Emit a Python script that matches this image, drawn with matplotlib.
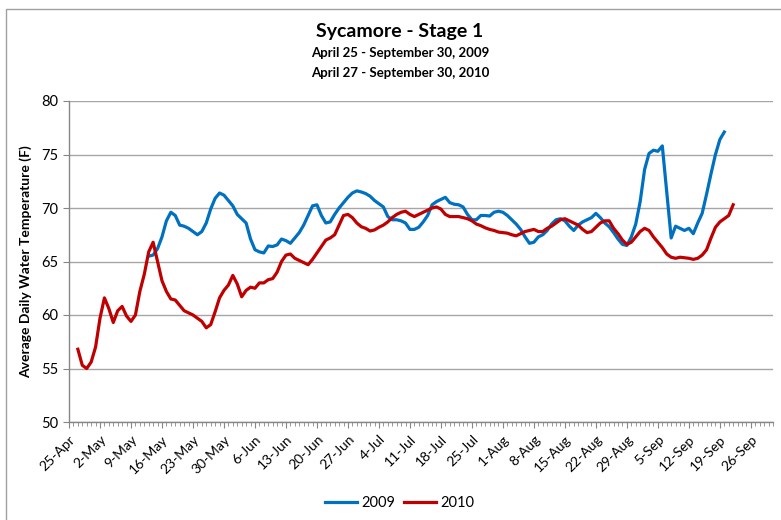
import matplotlib
matplotlib.use("Agg")
import matplotlib.pyplot as plt
import matplotlib.dates as mdates
from matplotlib.patches import Rectangle
import pandas as pd

# -------------------------------------------------
# Data (daily average water temperature, F)
# -------------------------------------------------

start_2009 = "2010-05-13"   # plotted on a common month-day axis
start_2010 = "2010-04-27"

temp_2009 = [
    65.5, 65.6, 66.2, 67.3, 68.8, 69.6, 69.3, 68.4, 68.3, 68.1,
    67.8, 67.5, 67.8, 68.6, 69.9, 70.9, 71.4, 71.2, 70.7, 70.2,
    69.4, 69.0, 68.6, 67.1, 66.1, 65.9, 65.8, 66.45, 66.4, 66.55,
    67.1, 66.95, 66.7, 67.2, 67.7, 68.4, 69.3, 70.2, 70.3, 69.3,
    68.6, 68.7, 69.4, 70.0, 70.5, 71.0, 71.4, 71.6, 71.5, 71.35,
    71.1, 70.7, 70.4, 70.1, 69.2, 68.9, 68.9, 68.8, 68.6, 68.0,
    68.0, 68.2, 68.7, 69.3, 70.3, 70.6, 70.8, 71.0, 70.5, 70.35,
    70.3, 70.1, 69.4, 68.9, 68.9, 69.3, 69.3, 69.25, 69.6, 69.7,
    69.6, 69.3, 68.9, 68.5, 68.0, 67.3, 66.7, 66.8, 67.3, 67.5,
    67.9, 68.5, 68.9, 69.0, 68.8, 68.3, 67.9, 68.4, 68.7, 68.9,
    69.1, 69.5, 69.1, 68.6, 68.25, 67.7, 67.1, 66.6, 66.5, 67.3,
    68.5, 70.6, 73.6, 75.1, 75.4, 75.3, 75.8, 71.5, 67.2, 68.3,
    68.1, 67.9, 68.1, 67.6, 68.6, 69.5, 71.3, 73.2, 75.0, 76.4,
    77.1,
]

temp_2010 = [
    56.8, 55.3, 55.0, 55.6, 57.0, 59.7, 61.6, 60.6, 59.3, 60.4,
    60.8, 59.9, 59.4, 60.0, 62.2, 63.8, 65.9, 66.8, 65.0, 63.2,
    62.2, 61.5, 61.4, 60.9, 60.4, 60.2, 60.0, 59.7, 59.4, 58.8,
    59.1, 60.3, 61.6, 62.3, 62.8, 63.7, 62.9, 61.7, 62.3, 62.6,
    62.5, 63.0, 63.0, 63.3, 63.4, 64.0, 65.0, 65.6, 65.7, 65.3,
    65.1, 64.9, 64.7, 65.2, 65.8, 66.4, 67.0, 67.2, 67.5, 68.4,
    69.3, 69.4, 69.1, 68.6, 68.25, 68.1, 67.85, 67.95, 68.2, 68.4,
    68.7, 69.1, 69.4, 69.6, 69.7, 69.4, 69.2, 69.4, 69.6, 69.8,
    70.0, 70.1, 69.9, 69.4, 69.2, 69.2, 69.2, 69.1, 69.0, 68.8,
    68.5, 68.35, 68.15, 68.0, 67.9, 67.75, 67.7, 67.65, 67.5, 67.4,
    67.6, 67.8, 67.9, 68.0, 67.8, 67.8, 68.1, 68.3, 68.6, 68.9,
    69.0, 68.8, 68.6, 68.4, 68.0, 67.7, 67.8, 68.2, 68.6, 68.8,
    68.8, 68.1, 67.6, 67.0, 66.6, 66.8, 67.3, 67.8, 68.1, 67.9,
    67.3, 66.8, 66.3, 65.7, 65.4, 65.3, 65.4, 65.35, 65.3, 65.2,
    65.3, 65.6, 66.1, 67.2, 68.2, 68.7, 69.0, 69.3, 70.3,
]

series_labels = ["2009", "2010"]
title = "Sycamore - Stage 1"
subtitles = ["April 25 - September 30, 2009", "April 27 - September 30, 2010"]
y_label = "Average Daily Water Temperature (F)"

dates_2009 = pd.date_range(start_2009, periods=len(temp_2009), freq="D")
dates_2010 = pd.date_range(start_2010, periods=len(temp_2010), freq="D")

# -------------------------------------------------
# Figure
# -------------------------------------------------

plt.rcParams["font.family"] = ["Lato", "DejaVu Sans"]

fig = plt.figure(figsize=(7.81, 5.2), dpi=100)
ax = fig.add_axes([69 / 781, 1 - 422 / 520, 704 / 781, 321 / 520])

# chart border
fig.patches.append(Rectangle((6 / 781, -0.1), 1.2, 1.1 - 9 / 520,
                             transform=fig.transFigure, fill=False,
                             edgecolor="#a0a0a0", linewidth=1.0))

ax.plot(dates_2009, temp_2009, color="#0070C0", linewidth=2.3,
        label=series_labels[0], solid_joinstyle="round")
ax.plot(dates_2010, temp_2010, color="#C00000", linewidth=2.3,
        label=series_labels[1], solid_joinstyle="round")

ax.set_ylim(50, 80)
ax.set_yticks(range(50, 81, 5))
ax.set_xlim(pd.Timestamp("2010-04-25"), pd.Timestamp("2010-10-01"))

major = pd.date_range("2010-04-25", "2010-09-26", freq="7D")
ax.set_xticks(major)
ax.set_xticklabels([f"{d.day}-{d:%b}" for d in major], rotation=45,
                   ha="right", va="top", rotation_mode="anchor",
                   fontsize=10)
ax.xaxis.set_minor_locator(mdates.DayLocator())

ax.grid(axis="y", color="#a6a6a6", linewidth=1.0)
ax.set_axisbelow(True)
for side in ["top", "right"]:
    ax.spines[side].set_visible(False)
for side in ["left", "bottom"]:
    ax.spines[side].set_color("#868686")
    ax.spines[side].set_linewidth(1.0)

ax.tick_params(axis="y", which="major", direction="out", length=4,
               color="#868686", labelsize=10.5, pad=4)
ax.tick_params(axis="x", which="major", direction="out", length=4,
               color="#868686", pad=4)
ax.tick_params(axis="x", which="minor", direction="out", length=3,
               color="#868686", width=0.6)

ax.set_ylabel(y_label, fontsize=10, fontweight="bold", labelpad=6)

fig.text(400 / 781, 1 - 31 / 520, title, ha="center", va="center",
         fontsize=14, fontweight="bold")
fig.text(400 / 781, 1 - 53 / 520, subtitles[0], ha="center", va="center",
         fontsize=9.5, fontweight="bold")
fig.text(400 / 781, 1 - 73 / 520, subtitles[1], ha="center", va="center",
         fontsize=9.5, fontweight="bold")

fig.legend(loc="center", bbox_to_anchor=(400 / 781, 1 - 503 / 520),
           ncol=2, frameon=False, fontsize=10.5, handlelength=2.2,
           handletextpad=0.3, columnspacing=0.6)

fig.savefig("out.png", dpi=100)
